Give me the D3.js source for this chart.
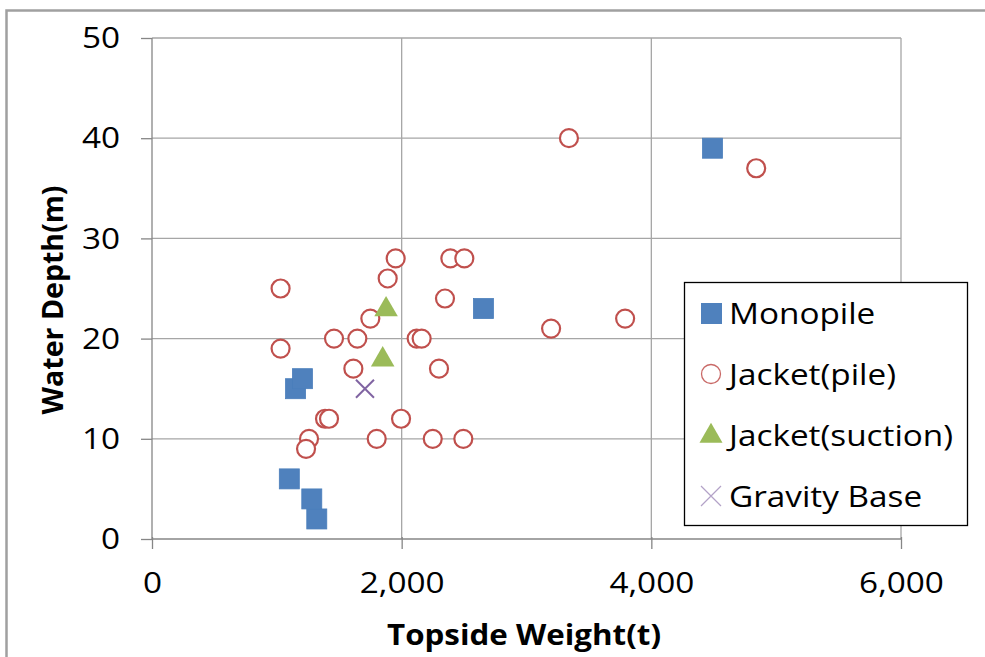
<!DOCTYPE html>
<html>
<head>
<meta charset="utf-8">
<script src="https://cdn.jsdelivr.net/npm/d3@7/dist/d3.min.js"></script>
<style>
  html, body { margin: 0; padding: 0; background: #fff; }
  svg { display: block; }
  text { font-family: "Open Sans", "Noto Sans", sans-serif; fill: #000; }
</style>
</head>
<body>
<svg id="chart" width="985" height="657"></svg>
<script>
// ---- data ----
const monopile = [
  [1100, 6], [1280, 4], [1320, 2], [1150, 15], [1205, 16], [2655, 23], [4490, 39]
];
const jacketPile = [
  [3340, 40], [4840, 37], [1030, 25], [1030, 19], [1952, 28], [2390, 28], [2502, 28],
  [1888, 26], [2347, 24], [1749, 22], [1458, 20], [1645, 20], [2120, 20], [2160, 20],
  [3197, 21], [3790, 22], [1613, 17], [2299, 17], [1386, 12], [1418, 12], [1995, 12],
  [1258, 10], [1234, 9], [1800, 10], [2249, 10], [2494, 10]
];
const jacketSuction = [[1875, 23], [1848, 18]];
const gravityBase = [[1706, 15]];
const xTicks = [0, 2000, 4000, 6000];
const yTicks = [0, 10, 20, 30, 40, 50];
const legendLabels = ["Monopile", "Jacket(pile)", "Jacket(suction)", "Gravity Base"];

// ---- layout ----
const svg = d3.select("#chart");
const pL = 152, pR = 901, pT = 38, pB = 539;
const x = d3.scaleLinear().domain([0, 6000]).range([pL, pR]);
const y = d3.scaleLinear().domain([0, 50]).range([pB, pT]);

const gridColor = "#a6a6a6";
const axisColor = "#868686";
const FS = 30, STRETCH = 1.11;

function stretch(sel, k) {
  sel.each(function () {
    const w = this.getComputedTextLength();
    d3.select(this).attr("textLength", w * k).attr("lengthAdjust", "spacingAndGlyphs");
  });
}

// outer frame
svg.append("path")
  .attr("d", "M6.5,657 L6.5,10.5 L985,10.5")
  .attr("fill", "none").attr("stroke", "#a0a0a0").attr("stroke-width", 2.5);

// gridlines
svg.append("g").selectAll("line").data(yTicks.filter(d => d > 0)).join("line")
  .attr("x1", pL).attr("x2", pR)
  .attr("y1", d => y(d)).attr("y2", d => y(d))
  .attr("stroke", gridColor).attr("stroke-width", 1.3);
svg.append("g").selectAll("line").data(xTicks.filter(d => d > 0)).join("line")
  .attr("x1", d => x(d)).attr("x2", d => x(d))
  .attr("y1", pT).attr("y2", pB)
  .attr("stroke", gridColor).attr("stroke-width", 1.3);

// axes
const xAxis = d3.axisBottom(x).tickValues(xTicks).tickSize(10).tickPadding(23)
  .tickFormat(d3.format(","));
const gx = svg.append("g").attr("transform", `translate(0,${pB})`).call(xAxis);
const yAxis = d3.axisLeft(y).tickValues(yTicks).tickSize(11).tickPadding(21);
const gy = svg.append("g").attr("transform", `translate(${pL},0)`).call(yAxis);
[gx, gy].forEach(g => {
  g.select(".domain").attr("stroke", axisColor).attr("stroke-width", 1.3);
  g.selectAll(".tick line").attr("stroke", axisColor).attr("stroke-width", 1.3);
  g.selectAll(".tick text").attr("font-size", FS).attr("fill", "#000")
    .style("font-family", '"Open Sans", sans-serif');
  stretch(g.selectAll(".tick text"), STRETCH);
});
gx.select(".domain").attr("d", `M${pL},0H${pR}`);
gy.select(".domain").attr("d", `M0,${pB}V${pT}`);
gx.selectAll(".tick line").attr("y1", -2);

// axis titles
svg.append("text").attr("x", 524).attr("y", 645)
  .attr("text-anchor", "middle").attr("font-size", 29).attr("font-weight", "bold")
  .attr("textLength", 274).attr("lengthAdjust", "spacingAndGlyphs")
  .text("Topside Weight(t)");
svg.append("text")
  .attr("transform", "translate(63,300) rotate(-90)")
  .attr("text-anchor", "middle").attr("font-size", 29).attr("font-weight", "bold")
  .attr("textLength", 229).attr("lengthAdjust", "spacingAndGlyphs")
  .text("Water Depth(m)");

// marks
const blue = "#4f81bd", red = "#c0504d", green = "#9bbb59", purple = "#8064a2";
const sq = 20;
svg.append("g").selectAll("rect").data(monopile).join("rect")
  .attr("x", d => x(d[0]) - sq / 2).attr("y", d => y(d[1]) - sq / 2)
  .attr("width", sq).attr("height", sq).attr("fill", blue)
  .attr("stroke", "#4a7ebb").attr("stroke-width", 0.8);
svg.append("g").selectAll("circle").data(jacketPile).join("circle")
  .attr("cx", d => x(d[0])).attr("cy", d => y(d[1])).attr("r", 9)
  .attr("fill", "#fff").attr("stroke", red).attr("stroke-width", 2.2);
const tri = d3.symbol().type(d3.symbolTriangle).size(240);
svg.append("g").selectAll("path").data(jacketSuction).join("path")
  .attr("d", tri).attr("transform", d => `translate(${x(d[0])},${y(d[1]) + 1})`)
  .attr("fill", green);
const cross = (cx, cy, s) => `M${cx - s},${cy - s}L${cx + s},${cy + s}M${cx - s},${cy + s}L${cx + s},${cy - s}`;
svg.append("g").selectAll("path").data(gravityBase).join("path")
  .attr("d", d => cross(x(d[0]), y(d[1]), 9))
  .attr("stroke", purple).attr("stroke-width", 2).attr("fill", "none");

// legend
const lg = svg.append("g");
lg.append("rect").attr("x", 684.5).attr("y", 282.5).attr("width", 283).attr("height", 243)
  .attr("fill", "#fff").attr("stroke", "#000").attr("stroke-width", 1.3);
const ly = i => 313 + i * 61;
const lx = 711;
lg.append("rect").attr("x", lx - 10).attr("y", ly(0) - 10).attr("width", 21).attr("height", 21).attr("fill", blue);
lg.append("circle").attr("cx", lx).attr("cy", ly(1)).attr("r", 9.5)
  .attr("fill", "#fff").attr("stroke", red).attr("stroke-width", 1.3).attr("opacity", 0.85);
lg.append("path").attr("d", d3.symbol().type(d3.symbolTriangle).size(230))
  .attr("transform", `translate(${lx},${ly(2) + 1})`).attr("fill", green);
lg.append("path").attr("d", cross(lx, ly(3), 10)).attr("stroke", purple)
  .attr("stroke-width", 1.2).attr("fill", "none").attr("opacity", 0.6);
const lt = lg.selectAll("text.lab").data(legendLabels).join("text").attr("class", "lab")
  .attr("x", 729).attr("y", (d, i) => ly(i)).attr("dy", "0.36em")
  .attr("font-size", FS).text(d => d);
stretch(lt, STRETCH);
</script>
</body>
</html>
